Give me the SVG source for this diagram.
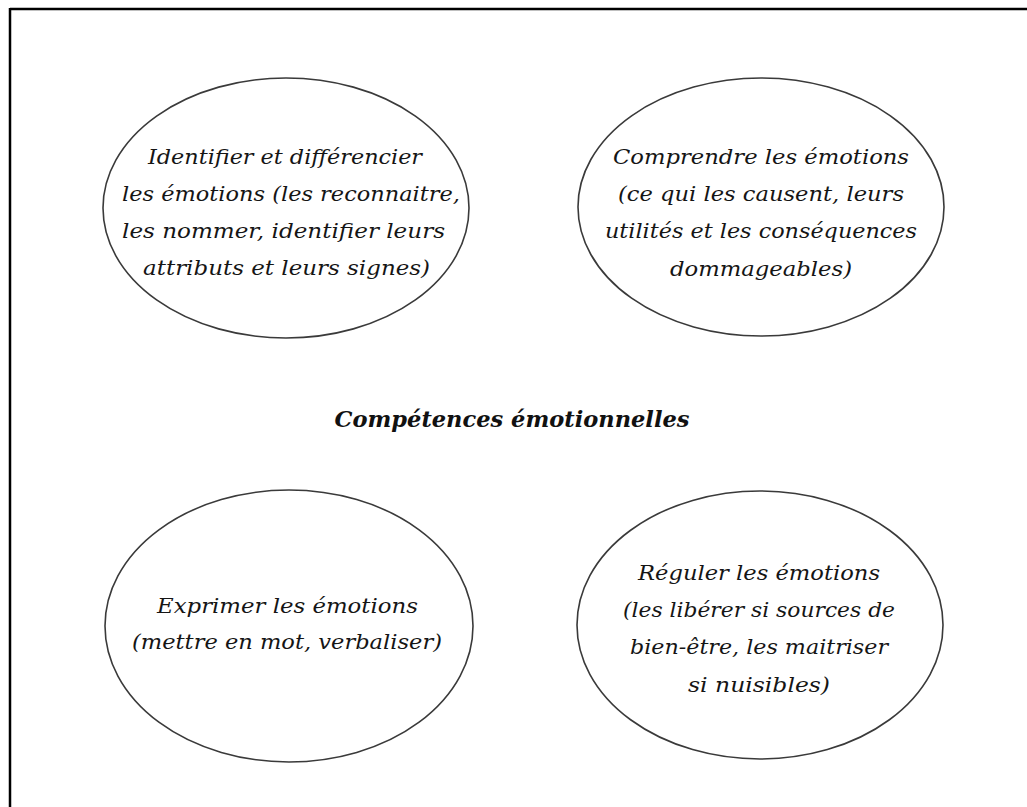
<svg xmlns="http://www.w3.org/2000/svg" width="1027" height="807" viewBox="0 0 1027 807">
<style>
.bg{fill:#ffffff}
.frame{stroke:#000;stroke-width:2.5;fill:none}
.node{fill:#ffffff;stroke:#3a3a3a;stroke-width:1.6}
.t{font-family:"DejaVu Serif","Liberation Serif",serif;font-style:italic;font-size:21px;fill:#151515;text-anchor:middle}
.title{font-family:"DejaVu Serif","Liberation Serif",serif;font-style:italic;font-weight:bold;font-size:23px;fill:#111;text-anchor:middle}
</style>
<rect class="bg" x="0" y="0" width="1027" height="807"/>
<g id="frame">
<line class="frame" x1="10" y1="9" x2="1027" y2="9"/>
<line class="frame" x1="10" y1="8" x2="10" y2="807"/>
</g>
<g id="connectors"></g>
<g id="node-identifier">
<ellipse class="node" cx="286" cy="208" rx="183" ry="130"/>
<text class="t" x="285" y="164" textLength="274" lengthAdjust="spacingAndGlyphs">Identifier et différencier</text>
<text class="t" x="291" y="201" textLength="338" lengthAdjust="spacingAndGlyphs">les émotions (les reconnaitre,</text>
<text class="t" x="283.5" y="238" textLength="323" lengthAdjust="spacingAndGlyphs">les nommer, identifier leurs</text>
<text class="t" x="286.5" y="275" textLength="287" lengthAdjust="spacingAndGlyphs">attributs et leurs signes)</text>
</g>
<g id="node-comprendre">
<ellipse class="node" cx="761" cy="207" rx="183" ry="129"/>
<text class="t" x="761" y="164" textLength="296" lengthAdjust="spacingAndGlyphs">Comprendre les émotions</text>
<text class="t" x="761" y="201" textLength="286" lengthAdjust="spacingAndGlyphs">(ce qui les causent, leurs</text>
<text class="t" x="761" y="238" textLength="312" lengthAdjust="spacingAndGlyphs">utilités et les conséquences</text>
<text class="t" x="761" y="276" textLength="182" lengthAdjust="spacingAndGlyphs">dommageables)</text>
</g>
<g id="node-title">
<text class="title" x="512" y="427" textLength="355" lengthAdjust="spacingAndGlyphs">Compétences émotionnelles</text>
</g>
<g id="node-exprimer">
<ellipse class="node" cx="289" cy="626" rx="184" ry="136"/>
<text class="t" x="287.5" y="613" textLength="261" lengthAdjust="spacingAndGlyphs">Exprimer les émotions</text>
<text class="t" x="287" y="649" textLength="310" lengthAdjust="spacingAndGlyphs">(mettre en mot, verbaliser)</text>
</g>
<g id="node-reguler">
<ellipse class="node" cx="760" cy="625" rx="183" ry="134"/>
<text class="t" x="759" y="580" textLength="242" lengthAdjust="spacingAndGlyphs">Réguler les émotions</text>
<text class="t" x="759" y="617" textLength="272" lengthAdjust="spacingAndGlyphs">(les libérer si sources de</text>
<text class="t" x="759" y="654" textLength="258" lengthAdjust="spacingAndGlyphs">bien-être, les maitriser</text>
<text class="t" x="759" y="692" textLength="142" lengthAdjust="spacingAndGlyphs">si nuisibles)</text>
</g>
</svg>
